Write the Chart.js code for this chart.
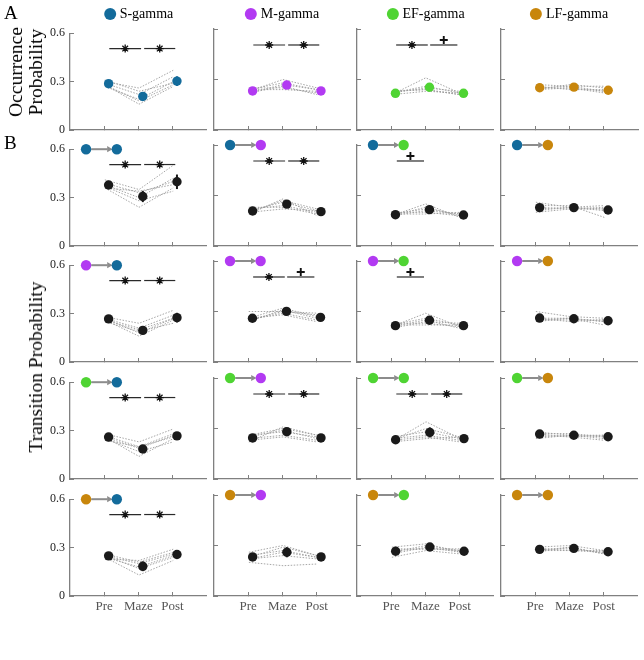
<!DOCTYPE html>
<html>
<head>
<meta charset="utf-8">
<script src="https://cdn.jsdelivr.net/npm/chart.js@4.4.1/dist/chart.umd.min.js"></script>
<style>
  body { margin: 0; background: #fff; width: 644px; height: 660px; position: relative; overflow: hidden;
         font-family: "Liberation Serif", "Times New Roman", serif; }
  canvas { position: absolute; }
  .txt { position: absolute; color: #000; white-space: nowrap; }
  .rot { transform: translate(-50%, -50%) rotate(-90deg); text-align: center; }
  .legend { position: absolute; top: 6px; transform: translateX(-50%); display: flex; align-items: center;
            font-size: 14px; white-space: nowrap; }
  .legend i { display: inline-block; width: 12px; height: 12px; border-radius: 50%; margin-right: 4px; }
</style>
</head>
<body>
<script>
/* occurrence + transition probabilities, 4 gamma bands, Pre / Maze / Post */

const PHASES = ['Pre', 'Maze', 'Post'];
const Y_TICKS = [0, 0.3, 0.6];
const BANDS = ['S-gamma', 'M-gamma', 'EF-gamma', 'LF-gamma'];
const BAND_COLORS = ['#136b9b', '#b23af2', '#4fd433', '#c8860c'];

// row A: occurrence probability, one entry per band
const occMean = [[0.287, 0.208, 0.303], [0.232, 0.267, 0.232], [0.218, 0.254, 0.218], [0.251, 0.255, 0.236]];
const occErr  = [[0.012, 0.025, 0.030], [0.008, 0.012, 0.008], [0.006, 0.015, 0.006], [0.008, 0.010, 0.010]];
const occSig  = [['*', '*'], ['*', '*'], ['*', '+'], [null, null]];
const occSubj = [
  [[0.30, 0.26, 0.37], [0.29, 0.22, 0.33], [0.28, 0.16, 0.27], [0.27, 0.19, 0.30], [0.31, 0.24, 0.29], [0.28, 0.18, 0.28]],
  [[0.22, 0.26, 0.21], [0.24, 0.28, 0.24], [0.23, 0.30, 0.25], [0.25, 0.25, 0.22], [0.22, 0.27, 0.24], [0.24, 0.24, 0.23]],
  [[0.21, 0.31, 0.22], [0.22, 0.25, 0.23], [0.23, 0.24, 0.21], [0.22, 0.26, 0.22], [0.21, 0.23, 0.22], [0.23, 0.24, 0.21]],
  [[0.27, 0.26, 0.23], [0.25, 0.25, 0.22], [0.24, 0.27, 0.25], [0.26, 0.24, 0.24], [0.25, 0.26, 0.26], [0.24, 0.25, 0.23]],
];

// row B: transition probability [from band][to band]
const trMean = [
  [[0.378, 0.307, 0.398], [0.208, 0.249, 0.204], [0.186, 0.216, 0.184], [0.228, 0.228, 0.214]],
  [[0.267, 0.196, 0.275], [0.260, 0.301, 0.265], [0.216, 0.248, 0.216], [0.261, 0.257, 0.245]],
  [[0.260, 0.186, 0.267], [0.244, 0.281, 0.244], [0.233, 0.277, 0.240], [0.267, 0.260, 0.251]],
  [[0.249, 0.184, 0.257], [0.232, 0.260, 0.232], [0.266, 0.291, 0.266], [0.277, 0.283, 0.263]],
];
const trErr = [
  [[0.015, 0.035, 0.045], [0.008, 0.012, 0.008], [0.006, 0.010, 0.006], [0.018, 0.012, 0.020]],
  [[0.010, 0.020, 0.030], [0.008, 0.010, 0.008], [0.008, 0.020, 0.008], [0.008, 0.010, 0.010]],
  [[0.008, 0.025, 0.012], [0.008, 0.020, 0.008], [0.008, 0.030, 0.008], [0.008, 0.010, 0.010]],
  [[0.008, 0.030, 0.010], [0.008, 0.030, 0.008], [0.008, 0.020, 0.008], [0.008, 0.012, 0.008]],
];
const trSig = [
  [['*', '*'], ['*', '*'], ['+', null], [null, null]],
  [['*', '*'], ['*', '+'], ['+', null], [null, null]],
  [['*', '*'], ['*', '*'], ['*', '*'], [null, null]],
  [['*', '*'], [null, null], [null, null], [null, null]],
];
const subjFromS = [
  [[0.41, 0.35, 0.50], [0.38, 0.30, 0.42], [0.36, 0.24, 0.36], [0.37, 0.28, 0.34], [0.39, 0.33, 0.40], [0.36, 0.34, 0.38]],
  [[0.19, 0.28, 0.18], [0.21, 0.26, 0.21], [0.22, 0.24, 0.20], [0.20, 0.27, 0.22], [0.23, 0.23, 0.19], [0.20, 0.22, 0.21]],
  [[0.18, 0.25, 0.17], [0.19, 0.22, 0.19], [0.20, 0.20, 0.18], [0.18, 0.21, 0.19], [0.19, 0.19, 0.20], [0.18, 0.23, 0.18]],
  [[0.26, 0.23, 0.24], [0.24, 0.24, 0.17], [0.20, 0.22, 0.22], [0.22, 0.23, 0.21], [0.23, 0.22, 0.23], [0.21, 0.23, 0.22]],
];
const subjFromM = [
  [[0.28, 0.24, 0.32], [0.27, 0.21, 0.29], [0.26, 0.16, 0.26], [0.25, 0.19, 0.24], [0.27, 0.18, 0.27], [0.26, 0.20, 0.27]],
  [[0.30, 0.30, 0.29], [0.26, 0.32, 0.27], [0.25, 0.29, 0.25], [0.24, 0.31, 0.26], [0.26, 0.28, 0.24], [0.25, 0.30, 0.28]],
  [[0.21, 0.29, 0.21], [0.22, 0.26, 0.22], [0.20, 0.24, 0.23], [0.23, 0.23, 0.21], [0.21, 0.25, 0.20], [0.22, 0.22, 0.22]],
  [[0.30, 0.27, 0.26], [0.26, 0.26, 0.22], [0.25, 0.25, 0.25], [0.24, 0.26, 0.24], [0.26, 0.24, 0.25], [0.25, 0.26, 0.24]],
];
const subjFromEF = [
  [[0.28, 0.23, 0.31], [0.27, 0.20, 0.28], [0.26, 0.14, 0.25], [0.25, 0.17, 0.23], [0.26, 0.19, 0.27], [0.24, 0.20, 0.26]],
  [[0.22, 0.31, 0.26], [0.25, 0.29, 0.24], [0.24, 0.26, 0.23], [0.26, 0.28, 0.25], [0.23, 0.25, 0.22], [0.26, 0.30, 0.26]],
  [[0.22, 0.34, 0.24], [0.23, 0.30, 0.25], [0.24, 0.26, 0.23], [0.25, 0.28, 0.24], [0.23, 0.25, 0.22], [0.22, 0.24, 0.25]],
  [[0.28, 0.26, 0.26], [0.27, 0.27, 0.25], [0.26, 0.25, 0.26], [0.25, 0.26, 0.24], [0.24, 0.26, 0.25], [0.27, 0.25, 0.23]],
];
const subjFromLF = [
  [[0.23, 0.22, 0.29], [0.25, 0.20, 0.26], [0.24, 0.13, 0.22], [0.25, 0.17, 0.24], [0.26, 0.21, 0.27], [0.24, 0.18, 0.25]],
  [[0.26, 0.30, 0.24], [0.24, 0.27, 0.23], [0.22, 0.24, 0.22], [0.20, 0.18, 0.19], [0.23, 0.29, 0.24], [0.22, 0.26, 0.23]],
  [[0.29, 0.31, 0.26], [0.28, 0.28, 0.28], [0.26, 0.30, 0.27], [0.23, 0.27, 0.25], [0.25, 0.29, 0.26], [0.27, 0.28, 0.27]],
  [[0.29, 0.30, 0.27], [0.28, 0.28, 0.26], [0.26, 0.29, 0.25], [0.27, 0.27, 0.26], [0.28, 0.27, 0.27], [0.27, 0.29, 0.25]],
];
const trSubj = [subjFromS, subjFromM, subjFromEF, subjFromLF];

// layout
const COL_LEFT = [70, 213.5, 357, 500.5];
const ROW_TOP  = [29, 145, 261, 378, 495];
const PW = 137, PH = 101;
const PAD_L = 30, PAD_T = 12, PAD_R = 5, PAD_B = 22;
const SUBJ_DX = 0.02, MEAN_DX = 0.13;
const SIG_Y = 0.505;
const SIG_SPAN = { '*': [[1.15, 2.08], [2.17, 3.08]], '+': [[1.17, 1.97], [2.15, 2.95]] };
const ICON_Y = 0.6;
const AXIS = '#808080';
const FONT = '"Liberation Serif", "Times New Roman", serif';

function addText(html, css, cls) {
  const d = document.createElement('div');
  d.className = 'txt ' + (cls || '');
  d.innerHTML = html;
  Object.assign(d.style, css);
  document.body.appendChild(d);
}

function panel(row, col, p) {
  const cv = document.createElement('canvas');
  cv.width = PAD_L + PW + PAD_R;
  cv.height = PAD_T + PH + PAD_B;
  cv.style.left = (COL_LEFT[col] - PAD_L) + 'px';
  cv.style.top = (ROW_TOP[row] - PAD_T) + 'px';
  document.body.appendChild(cv);

  const ds = [];
  p.subjects.forEach(s => ds.push({
    data: s.map((v, i) => ({ x: i + 1 + SUBJ_DX, y: v })), showLine: true,
    borderColor: '#9c9c9c', borderWidth: 0.9, borderDash: [1.5, 1.5], pointRadius: 0, order: 6,
  }));
  p.err.forEach((e, i) => ds.push({
    data: [{ x: i + 1 + MEAN_DX, y: p.mean[i] - e }, { x: i + 1 + MEAN_DX, y: p.mean[i] + e }], showLine: true,
    borderColor: p.color, borderWidth: 2, pointRadius: 0, order: 4,
  }));
  ds.push({
    data: p.mean.map((v, i) => ({ x: i + 1 + MEAN_DX, y: v })),
    backgroundColor: p.color, borderWidth: 0, pointRadius: 4.7, order: 3,
  });
  p.sig.forEach((m, k) => {
    if (!m) return;
    const [a, b] = SIG_SPAN[m][k];
    ds.push({ data: [{ x: a, y: SIG_Y }, { x: b, y: SIG_Y }], showLine: true,
      borderColor: '#2a2a2a', borderWidth: 1.2, pointRadius: 0, order: 2 });
    ds.push({ data: [{ x: (a + b) / 2, y: m === '*' ? SIG_Y : SIG_Y + 0.03 }],
      pointStyle: m === '*' ? 'star' : 'cross', pointRadius: 4,
      borderColor: '#111', borderWidth: m === '*' ? 1.3 : 1.9, order: 1 });
  });
  if (p.icon) {
    ds.push({ data: [{ x: 0.62, y: ICON_Y }, { x: 1.1, y: ICON_Y }], showLine: true,
      borderColor: '#8c8c8c', borderWidth: 2, pointRadius: 0, order: 1 });
    ds.push({ data: [{ x: 1.14, y: ICON_Y }], pointStyle: 'triangle', rotation: 90, pointRadius: 3.6,
      backgroundColor: '#8c8c8c', borderWidth: 0, order: 1 });
    ds.push({ data: [{ x: 0.47, y: ICON_Y }, { x: 1.37, y: ICON_Y }],
      backgroundColor: p.icon, borderWidth: 0, pointRadius: 5.2, order: 0 });
  }
  ds.forEach(d => { d.clip = false; });

  new Chart(cv.getContext('2d'), {
    type: 'scatter',
    data: { datasets: ds },
    options: {
      responsive: false, animation: false, events: [],
      layout: { padding: { top: PAD_T, right: PAD_R, left: 0, bottom: 0 } },
      plugins: { legend: { display: false }, tooltip: { enabled: false } },
      scales: {
        x: {
          type: 'linear', min: 0, max: 4,
          afterBuildTicks: s => { s.ticks = PHASES.map((_, i) => ({ value: i + 1 })); },
          afterFit: s => { s.height = PAD_B; },
          border: { display: true, color: AXIS, width: 1.3 },
          grid: { display: true, drawOnChartArea: false, drawTicks: true, tickLength: -4, color: AXIS, lineWidth: 1 },
          ticks: { display: row === 4, callback: (v, i) => PHASES[i], color: '#555', padding: 7,
                   font: { family: FONT, size: 13 }, maxRotation: 0, autoSkip: false },
        },
        y: {
          min: 0, max: 0.6,
          afterBuildTicks: s => { s.ticks = Y_TICKS.map(v => ({ value: v })); },
          afterFit: s => { s.width = PAD_L; },
          border: { display: true, color: AXIS, width: 1.3 },
          grid: { display: true, drawOnChartArea: false, drawTicks: true, tickLength: -4, color: AXIS, lineWidth: 1 },
          ticks: { display: col === 0, callback: v => (v === 0 ? '0' : v.toFixed(1)), color: '#222', padding: 9,
                   font: { family: FONT, size: 12 } },
        },
      },
    },
  });
}

// row A
BANDS.forEach((b, c) => {
  panel(0, c, { mean: occMean[c], err: occErr[c], subjects: occSubj[c], sig: occSig[c], color: BAND_COLORS[c] });
  const lg = document.createElement('div');
  lg.className = 'legend';
  lg.style.left = (COL_LEFT[c] + PW / 2) + 'px';
  lg.innerHTML = '<i style="background:' + BAND_COLORS[c] + '"></i>' + b;
  document.body.appendChild(lg);
});

// rows B
for (let f = 0; f < 4; f++) {
  for (let t = 0; t < 4; t++) {
    panel(f + 1, t, { mean: trMean[f][t], err: trErr[f][t], subjects: trSubj[f][t], sig: trSig[f][t],
                      color: '#1a1a1a', icon: [BAND_COLORS[f], BAND_COLORS[t]] });
  }
}

addText('A', { left: '4px', top: '2px', fontSize: '19px' });
addText('B', { left: '4px', top: '132px', fontSize: '19px' });
addText('Occurrence<br>Probability', { left: '26px', top: '72px', fontSize: '19.5px', lineHeight: '20px' }, 'rot');
addText('Transition Probability', { left: '36px', top: '367px', fontSize: '19.5px' }, 'rot');
</script>
</body>
</html>
